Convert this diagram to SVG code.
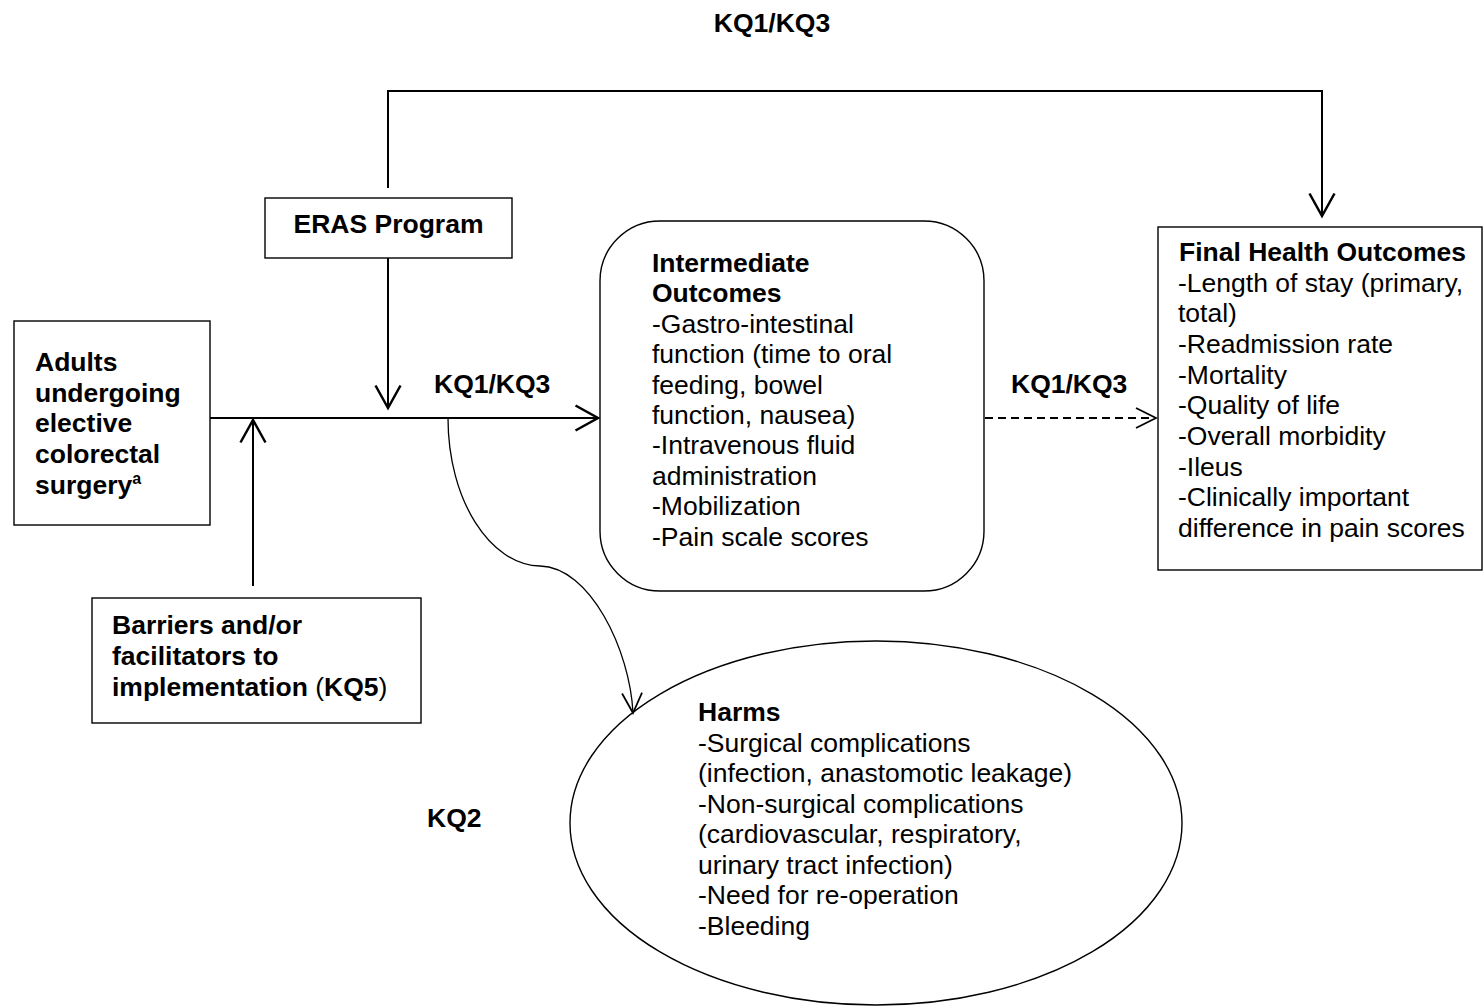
<svg xmlns="http://www.w3.org/2000/svg" width="1483" height="1006" viewBox="0 0 1483 1006">
<style>
text{font-family:"Liberation Sans",Arial,sans-serif;font-size:26.5px;fill:#000}
.b{font-weight:bold}
.box{fill:#fff;stroke:#000;stroke-width:1.4}
.ln{fill:none;stroke:#000;stroke-width:2}
.thin{fill:none;stroke:#000;stroke-width:1.3}
</style>
<defs>
<marker id="ah" markerUnits="userSpaceOnUse" markerWidth="30" markerHeight="30" viewBox="-20 -12 24 24" refX="0" refY="0" orient="auto" overflow="visible">
<path d="M-18,-10 L0,0 L-18,10" fill="none" stroke="#000" stroke-width="2"/>
</marker>
<marker id="ahs" markerUnits="userSpaceOnUse" markerWidth="30" markerHeight="30" viewBox="-20 -12 24 24" refX="0" refY="0" orient="auto" overflow="visible">
<path d="M-16,-8 L0,0 L-16,8" fill="none" stroke="#000" stroke-width="1.4"/>
</marker>
</defs>
<g id="harms">
<ellipse class="box" cx="876" cy="823" rx="306" ry="182"/>
<text class="b" x="698" y="721">Harms</text>
<text x="698" y="752">-Surgical complications</text>
<text x="698" y="782">(infection, anastomotic leakage)</text>
<text x="698" y="813">-Non-surgical complications</text>
<text x="698" y="843">(cardiovascular, respiratory,</text>
<text x="698" y="874">urinary tract infection)</text>
<text x="698" y="904">-Need for re-operation</text>
<text x="698" y="935">-Bleeding</text>
</g>
<g id="connectors">
<path class="ln" d="M388,188 L388,91 L1322,91 L1322,216" marker-end="url(#ah)"/>
<path class="ln" d="M388,258 L388,408" marker-end="url(#ah)"/>
<path class="ln" d="M210,418 L598,418" marker-end="url(#ah)"/>
<path class="ln" d="M253,586 L253,420" marker-end="url(#ah)"/>
<path class="thin" d="M448,418 C448,500 490,565 540,566 C590,567 630,650 633,713" marker-end="url(#ahs)"/>
<path class="ln" d="M985,418 L1156,418" stroke-dasharray="8,5" stroke-width="1.6" marker-end="url(#ahs)"/>
</g>
<g id="label-top"><text class="b" x="772" y="32" text-anchor="middle">KQ1/KQ3</text></g>
<g id="label-mid"><text class="b" x="434" y="393">KQ1/KQ3</text></g>
<g id="label-right"><text class="b" x="1011" y="393">KQ1/KQ3</text></g>
<g id="label-kq2"><text class="b" x="427" y="827">KQ2</text></g>
<g id="eras">
<rect class="box" x="265" y="198" width="247" height="60"/>
<text class="b" x="388.5" y="233" text-anchor="middle">ERAS Program</text>
</g>
<g id="adults">
<rect class="box" x="14" y="321" width="196" height="204"/>
<text class="b" x="35" y="371">Adults</text>
<text class="b" x="35" y="402">undergoing</text>
<text class="b" x="35" y="432">elective</text>
<text class="b" x="35" y="463">colorectal</text>
<text class="b" x="35" y="494">surgery<tspan font-size="16" dy="-10">a</tspan></text>
</g>
<g id="barriers">
<rect class="box" x="92" y="598" width="329" height="125"/>
<text class="b" x="112" y="634">Barriers and/or</text>
<text class="b" x="112" y="665">facilitators to</text>
<text x="112" y="696"><tspan class="b">implementation </tspan>(<tspan class="b">KQ5</tspan>)</text>
</g>
<g id="intermediate">
<rect class="box" x="600" y="221" width="384" height="370" rx="60" ry="60"/>
<text class="b" x="652" y="272">Intermediate</text>
<text class="b" x="652" y="302">Outcomes</text>
<text x="652" y="333">-Gastro-intestinal</text>
<text x="652" y="363">function (time to oral</text>
<text x="652" y="394">feeding, bowel</text>
<text x="652" y="424">function, nausea)</text>
<text x="652" y="454">-Intravenous fluid</text>
<text x="652" y="485">administration</text>
<text x="652" y="515">-Mobilization</text>
<text x="652" y="546">-Pain scale scores</text>
</g>
<g id="final">
<rect class="box" x="1158" y="227" width="324" height="343"/>
<text class="b" x="1179" y="261" textLength="287" lengthAdjust="spacingAndGlyphs">Final Health Outcomes</text>
<text x="1178" y="292">-Length of stay (primary,</text>
<text x="1178" y="322">total)</text>
<text x="1178" y="353">-Readmission rate</text>
<text x="1178" y="384">-Mortality</text>
<text x="1178" y="414">-Quality of life</text>
<text x="1178" y="445">-Overall morbidity</text>
<text x="1178" y="476">-Ileus</text>
<text x="1178" y="506">-Clinically important</text>
<text x="1178" y="537">difference in pain scores</text>
</g>
</svg>
